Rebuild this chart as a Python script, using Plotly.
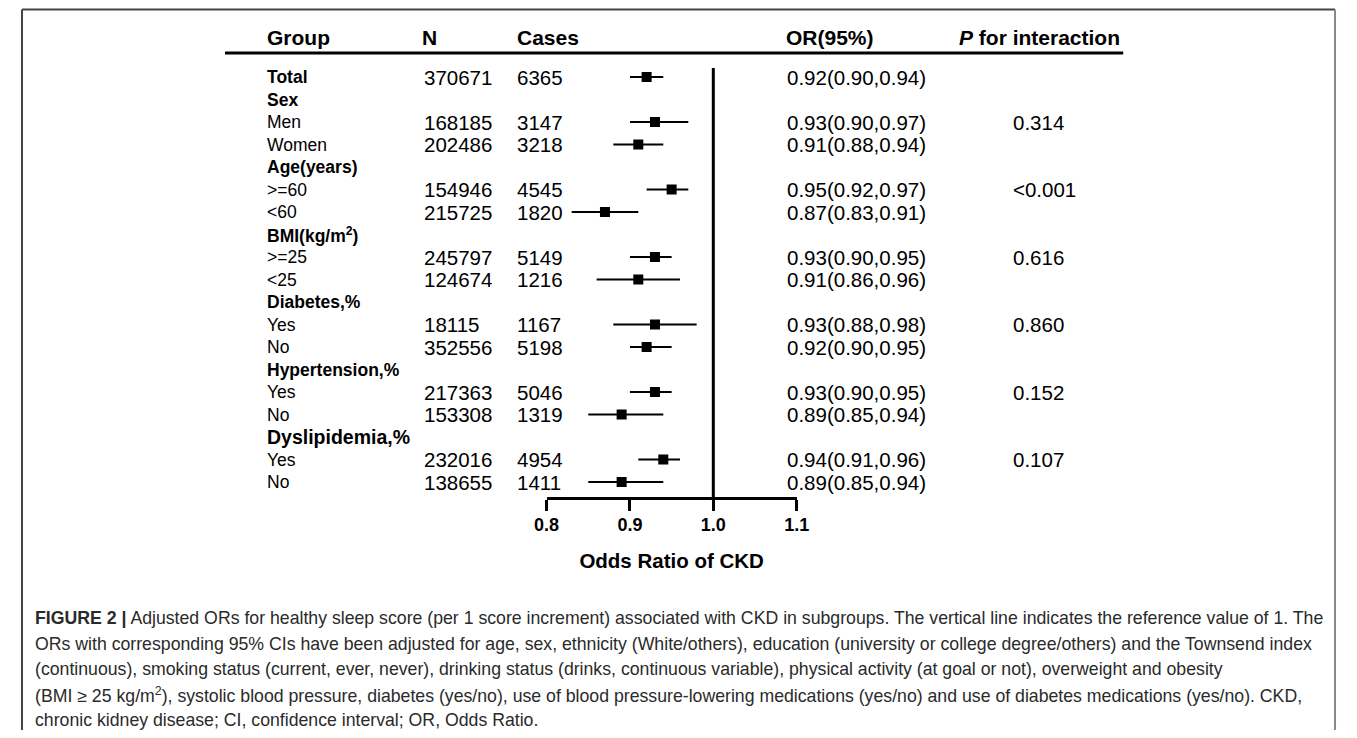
import plotly.graph_objects as go

# ---------------- data ----------------
labels = ["Total", "Sex", "Men", "Women", "Age(years)", ">=60", "<60",
          "BMI(kg/m<sup>2</sup>)", ">=25", "<25", "Diabetes,%", "Yes", "No",
          "Hypertension,%", "Yes", "No", "Dyslipidemia,%", "Yes", "No"]
is_heading = [True, True, False, False, True, False, False, True, False, False,
              True, False, False, True, False, False, True, False, False]
n_vals = ["370671", "", "168185", "202486", "", "154946", "215725", "", "245797",
          "124674", "", "18115", "352556", "", "217363", "153308", "", "232016", "138655"]
cases = ["6365", "", "3147", "3218", "", "4545", "1820", "", "5149", "1216", "",
         "1167", "5198", "", "5046", "1319", "", "4954", "1411"]
or_est = [0.92, None, 0.93, 0.91, None, 0.95, 0.87, None, 0.93, 0.91, None,
          0.93, 0.92, None, 0.93, 0.89, None, 0.94, 0.89]
or_lo = [0.90, None, 0.90, 0.88, None, 0.92, 0.83, None, 0.90, 0.86, None,
         0.88, 0.90, None, 0.90, 0.85, None, 0.91, 0.85]
or_hi = [0.94, None, 0.97, 0.94, None, 0.97, 0.91, None, 0.95, 0.96, None,
         0.98, 0.95, None, 0.95, 0.94, None, 0.96, 0.94]
p_inter = ["", "", "0.314", "", "", "<0.001", "", "", "0.616", "", "", "0.860", "",
           "", "0.152", "", "", "0.107", ""]
headers = ["Group", "N", "Cases", "OR(95%)", "<i>P</i> for interaction"]
xticks = [0.8, 0.9, 1.0, 1.1]
xtick_labels = ["0.8", "0.9", "1.0", "1.1"]

caption_lines = [
    "<b>FIGURE 2 |</b> Adjusted ORs for healthy sleep score (per 1 score increment) associated with CKD in subgroups. The vertical line indicates the reference value of 1. The",
    "ORs with corresponding 95% CIs have been adjusted for age, sex, ethnicity (White/others), education (university or college degree/others) and the Townsend index",
    "(continuous), smoking status (current, ever, never), drinking status (drinks, continuous variable), physical activity (at goal or not), overweight and obesity",
    "(BMI ≥ 25 kg/m<sup>2</sup>), systolic blood pressure, diabetes (yes/no), use of blood pressure-lowering medications (yes/no) and use of diabetes medications (yes/no). CKD,",
    "chronic kidney disease; CI, confidence interval; OR, Odds Ratio.",
]

# ---------------- layout helpers ----------------
# page body has an 8px margin, so the figure is drawn 8px in from the window edge
OFF = 8
W, H = 1357 - 2 * OFF, 738 - 2 * OFF
ROW0, ROWSTEP = 77.0, 22.5          # window-pixel centre of first row, row spacing


def row_of(py):
    return (py - ROW0) / ROWSTEP


def px(x):
    return (x - OFF) / W


def py_paper(y):
    return 1 - (y - OFF) / H


FONT = "Liberation Sans, Arial, Helvetica, sans-serif"
rows = list(range(len(labels)))

fig = go.Figure()

xs, ys, ep, em = [], [], [], []
for r, e, lo, hi in zip(rows, or_est, or_lo, or_hi):
    if e is None:
        continue
    xs.append(e)
    ys.append(r)
    ep.append(hi - e)
    em.append(e - lo)

fig.add_trace(go.Scatter(
    x=xs, y=ys, mode="markers",
    marker=dict(symbol="square", size=10, color="black"),
    error_x=dict(type="data", symmetric=False, array=ep, arrayminus=em,
                 color="black", thickness=2, width=0),
    hoverinfo="x", showlegend=False,
))

ann = []
col_x = [257, 417, 512, 787, 1018]
hdr_x = [257, 415, 512, 786, 962]
for t, x in zip(headers, hdr_x):
    ann.append(dict(x=px(x), xref="paper", y=row_of(37), yref="y", text="<b>" + t + "</b>",
                    xanchor="left", yanchor="middle", showarrow=False,
                    font=dict(family=FONT, size=21, color="black")))

for r in rows:
    lab = labels[r]
    if is_heading[r]:
        size = 19.5 if lab.startswith("Dyslipidemia") else 17.5
        txt = "<b>" + lab + "</b>"
    else:
        size = 17.5
        txt = lab
    ann.append(dict(x=px(col_x[0]), xref="paper", y=r, yref="y", text=txt,
                    xanchor="left", yanchor="middle", showarrow=False,
                    font=dict(family=FONT, size=size, color="black")))
    if or_est[r] is not None:
        ort = "%.2f(%.2f,%.2f)" % (or_est[r], or_lo[r], or_hi[r])
    else:
        ort = ""
    for t, x in zip([n_vals[r], cases[r], ort, p_inter[r]], col_x[1:]):
        if t:
            ann.append(dict(x=px(x), xref="paper", y=r, yref="y", text=t,
                            xanchor="left", yanchor="middle", showarrow=False,
                            font=dict(family=FONT, size=20.5, color="black")))

cap_y = [618, 643.5, 669, 694.5, 720]
for t, y in zip(caption_lines, cap_y):
    ann.append(dict(x=px(20), xref="paper", y=py_paper(y), yref="paper", text=t,
                    xanchor="left", yanchor="middle", showarrow=False,
                    font=dict(family=FONT, size=17.7, color="#2a2a2a")))

shapes = [
    # reference line at OR = 1
    dict(type="line", xref="x", yref="y", x0=1, x1=1, y0=row_of(68), y1=row_of(498),
         line=dict(color="black", width=3)),
    # header rule
    dict(type="line", xref="paper", yref="y", x0=px(216), x1=px(1132),
         y0=row_of(53), y1=row_of(53), line=dict(color="black", width=3)),
    # figure frame (kept inside the figure so nothing overflows the page)
    dict(type="line", xref="paper", yref="paper", x0=px(9), x1=px(1348),
         y0=py_paper(9.5), y1=py_paper(9.5), line=dict(color="#444444", width=2)),
    dict(type="line", xref="paper", yref="paper", x0=px(9), x1=px(9),
         y0=py_paper(9.5), y1=0, line=dict(color="#444444", width=2)),
    dict(type="line", xref="paper", yref="paper", x0=px(1348), x1=px(1348),
         y0=py_paper(9.5), y1=0, line=dict(color="#888888", width=2)),
]

fig.update_layout(
    width=W, height=H, margin=dict(l=0, r=0, t=0, b=0),
    paper_bgcolor="white", plot_bgcolor="white",
    annotations=ann, shapes=shapes, showlegend=False,
    xaxis=dict(domain=[px(544), px(799)], range=[0.8, 1.1],
               tickvals=xticks, ticktext=["<b>" + t + "</b>" for t in xtick_labels],
               tickfont=dict(family=FONT, size=18, color="black"),
               showline=True, linewidth=3, linecolor="black",
               ticks="outside", ticklen=11, tickwidth=3, tickcolor="black",
               ticklabelstandoff=-2,
               showgrid=False, zeroline=False, anchor="free",
               position=py_paper(498),
               title=dict(text="<b>Odds Ratio of CKD</b>", standoff=20,
                          font=dict(family=FONT, size=20.5, color="black"))),
    yaxis=dict(domain=[0, 1],
               range=[(H + OFF - ROW0) / ROWSTEP, (OFF - ROW0) / ROWSTEP],
               visible=False, showgrid=False, zeroline=False),
)

fig.write_html("out.html")
